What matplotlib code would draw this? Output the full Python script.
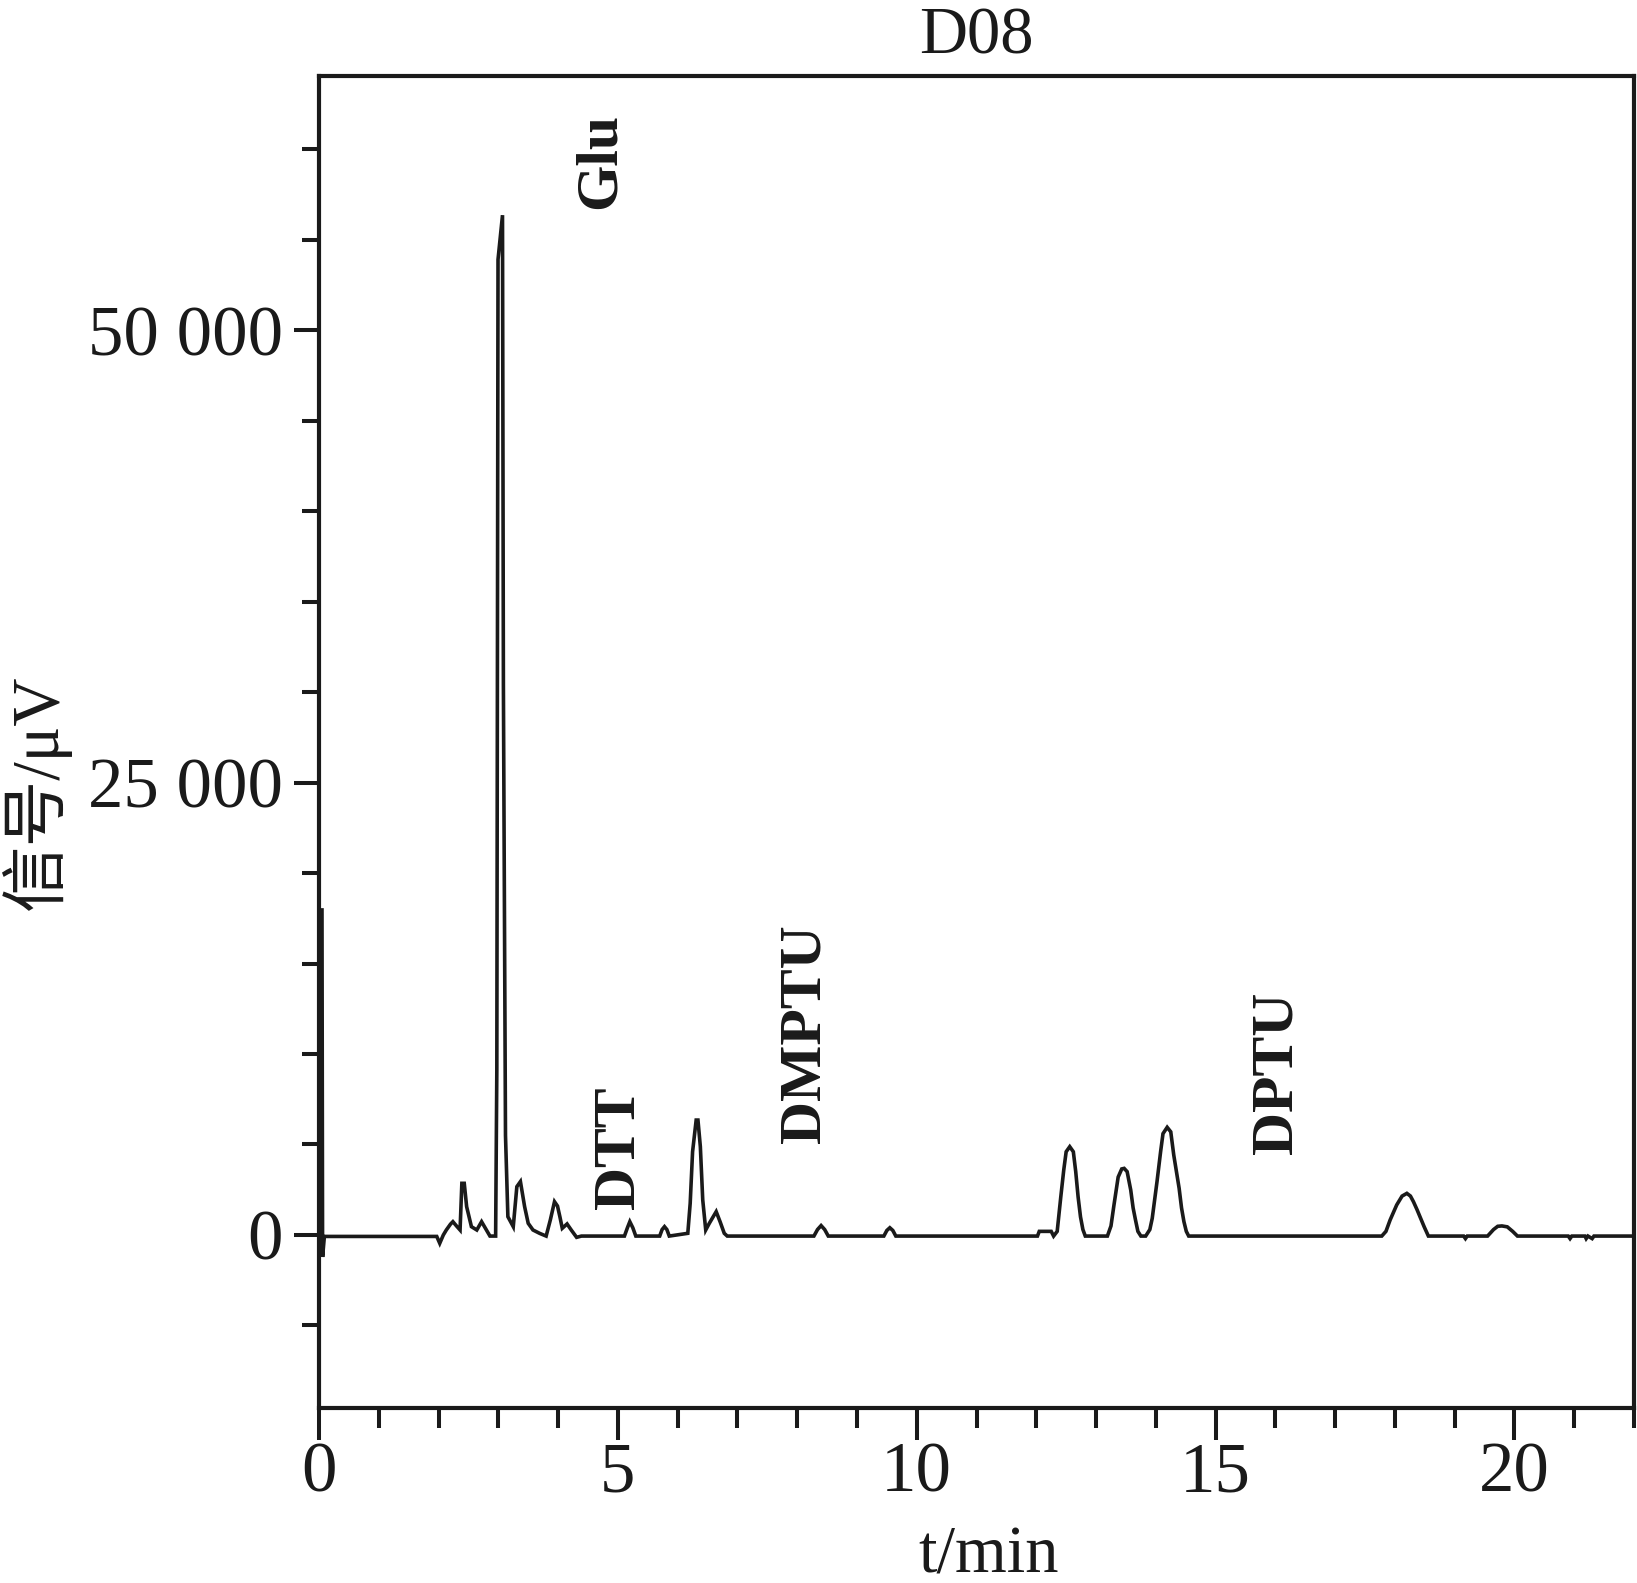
import matplotlib
matplotlib.use('Agg')
import matplotlib.pyplot as plt
from matplotlib.ticker import MultipleLocator, FixedLocator

plt.rcParams['font.family'] = ['Liberation Serif', 'Noto Sans CJK SC', 'DejaVu Sans']

# ---- data ----
time_min = [0.05, 0.06, 0.09, 1.97, 2.02, 2.08, 2.13, 2.20, 2.24, 2.30, 2.36, 2.39, 2.43, 2.47,
            2.55, 2.64, 2.72, 2.80, 2.86, 2.955, 2.975, 2.995, 3.07, 3.085, 3.12, 3.16,
            3.25, 3.31, 3.37, 3.44, 3.50, 3.58, 3.69, 3.80, 3.87, 3.94, 3.99, 4.03, 4.07,
            4.15, 4.22, 4.31, 4.39, 5.11, 5.16, 5.20, 5.25, 5.30, 5.70, 5.74, 5.78, 5.82,
            5.86, 6.17, 6.21, 6.25, 6.31, 6.34, 6.38, 6.42, 6.47, 6.53, 6.645, 6.71, 6.78,
            6.83, 8.28, 8.34, 8.40, 8.46, 8.52, 9.45, 9.50, 9.55, 9.60, 9.65,
            12.02, 12.05, 12.25, 12.29,
            12.35, 12.41, 12.46, 12.50, 12.56, 12.62, 12.66, 12.70, 12.74, 12.78, 12.82,
            13.19, 13.25, 13.30, 13.37, 13.43, 13.47, 13.52, 13.58, 13.62, 13.66, 13.70, 13.75,
            13.83, 13.90, 13.94, 14.02, 14.08, 14.12, 14.19, 14.25, 14.30, 14.35, 14.39,
            14.43, 14.47, 14.51, 14.55,
            17.78, 17.85, 17.92, 18.03, 18.12, 18.20, 18.26, 18.31, 18.37, 18.42, 18.49, 18.56,
            19.15, 19.18, 19.21,
            19.55, 19.65, 19.72, 19.79, 19.88, 19.97, 20.05,
            20.90, 20.93, 20.96, 21.18, 21.20, 21.23, 21.30, 21.33, 22.00]
signal_uv = [17960, -1215, -80, -80, -460, 0, 276, 600, 735, 500, 276, 2855, 2855, 1565,
             460, 276, 735, 276, -60, -60, 9100, 53900, 56350, 30400, 5500, 1010,
             460, 2670, 2950, 1565, 645, 276, 92, -60, 830, 1840, 1600, 1010, 370,
             610, 276, -130, -60, -60, 400, 735, 400, -60, -60, 300, 460, 300,
             -60, 92, 1750, 4600, 6350, 6350, 4880, 1935, 276, 645, 1290, 735, 92,
             -60, -60, 300, 520, 300, -60, -60, 250, 400, 250, -60,
             -60, 200, 200, -60,
             200, 2100, 3600, 4600, 4880, 4600, 3500, 2100, 1000, 300, -60,
             -60, 500, 1660, 3200, 3650, 3680, 3500, 2490, 1500, 830, 200, -60,
             -60, 300, 920, 2950, 4600, 5600, 5950, 5700, 4420, 3400, 2580,
             1500, 740, 200, -60,
             -60, 200, 830, 1660, 2150, 2300, 2150, 1840, 1400, 1010, 450, -60,
             -60, -200, -60,
             -60, 300, 480, 500, 450, 200, -60,
             -60, -200, -60, -60, -200, -60, -200, -60, -60]

peak_names = ['Glu', 'DTT', 'DMPTU', 'DPTU']
peak_label_t = [4.71, 5.03, 8.14, 16.04]
peak_label_y = [59340, 4800, 11100, 8950]

x_major = [0, 5, 10, 15, 20]
y_major = [0, 25000, 50000]
y_major_labels = ['0', '25 000', '50 000']

# ---- figure ----
W, H = 1637, 1583
fig = plt.figure(figsize=(W / 100, H / 100), dpi=100)
ax = fig.add_axes([319 / W, 1 - 1408 / H, 1315 / W, 1332 / H])

ink = '#1a1a1a'
ax.plot(time_min, signal_uv, color=ink, lw=2.6, solid_joinstyle='miter')

ax.set_xlim(0, 22)
ax.set_ylim(-9560, 64040)

ax.xaxis.set_major_locator(FixedLocator(x_major))
ax.xaxis.set_minor_locator(MultipleLocator(1))
ax.yaxis.set_major_locator(FixedLocator(y_major))
ax.set_yticklabels(y_major_labels)
ax.yaxis.set_minor_locator(MultipleLocator(5000))

for sp in ax.spines.values():
    sp.set_linewidth(3.0)
    sp.set_color(ink)

ax.tick_params(axis='both', which='both', direction='out', color=ink, width=2.9,
               labelcolor=ink, labelsize=51)
ax.tick_params(axis='x', which='major', length=23, pad=1)
ax.tick_params(axis='x', which='minor', length=14.5)
ax.tick_params(axis='y', which='major', length=18, pad=8)
ax.tick_params(axis='y', which='minor', length=12.5)

for name, t, y in zip(peak_names, peak_label_t, peak_label_y):
    ax.text(t, y, name, rotation=90, ha='center', va='center', fontsize=43,
            fontweight='bold', color=ink)

ax.set_title('D08', fontsize=48, pad=16, color=ink)

ax.set_xlabel('t/min', fontsize=48, color=ink)
ax.xaxis.set_label_coords(0.5095, -0.088)
ax.xaxis.label.set_verticalalignment('top')

ax.set_ylabel('信号/μV', fontsize=48, color=ink)
ax.yaxis.set_label_coords(-0.215, 0.462)
ax.yaxis.label.set_verticalalignment('center')

fig.savefig('out.png', dpi=100, facecolor='white')
